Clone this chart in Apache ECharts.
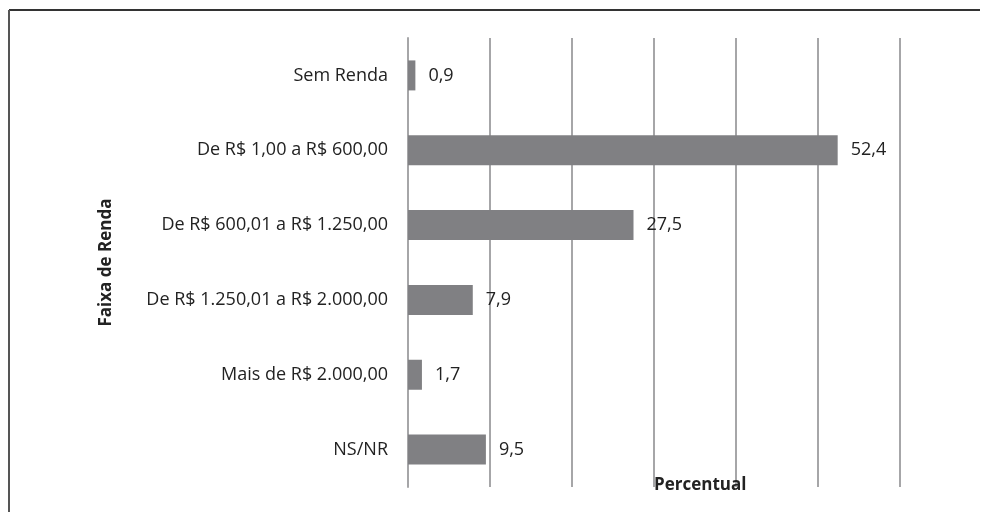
<!DOCTYPE html>
<html>
<head>
<meta charset="utf-8">
<script src="https://cdn.jsdelivr.net/npm/echarts@6/dist/echarts.min.js"></script>
<style>
    html, body { margin: 0; padding: 0; background: #fff; }
    #chart { width: 983px; height: 512px; }
</style>
</head>
<body>
<div id="chart"></div>
<script type="text/javascript">
    // faixas de renda, de cima para baixo
    var categorias = ['Sem Renda', 'De R$ 1,00 a R$ 600,00', 'De R$ 600,01 a R$ 1.250,00',
        'De R$ 1.250,01 a R$ 2.000,00', 'Mais de R$ 2.000,00', 'NS/NR'];
    var percentual = [0.9, 52.4, 27.5, 7.9, 1.7, 9.5];

    var fonte = '"Open Sans", "Noto Sans", sans-serif';

    var myChart = echarts.init(document.getElementById('chart'));
    var option = {
        animation: false,
        textStyle: { fontFamily: fonte },
        grid: { left: 408, right: 83, top: 38, bottom: 25, containLabel: false },
        // moldura (linha superior e esquerda)
        graphic: [
            { type: 'line', shape: { x1: 9, y1: 10, x2: 980, y2: 10 }, style: { stroke: '#333', lineWidth: 2 } },
            { type: 'line', shape: { x1: 9, y1: 10, x2: 9, y2: 512 }, style: { stroke: '#555', lineWidth: 2 } }
        ],
        xAxis: {
            type: 'value',
            min: 0,
            max: 60,
            interval: 10,
            name: 'Percentual',
            nameLocation: 'middle',
            nameGap: -2,
            nameTextStyle: { fontFamily: fonte, fontSize: 17, fontWeight: 'bold', color: '#222', align: 'left', verticalAlign: 'middle' },
            axisLine: { show: false },
            axisTick: { show: false },
            axisLabel: { show: false },
            splitLine: { show: true, lineStyle: { color: '#a6a6a8', width: 2 } }
        },
        yAxis: {
            type: 'category',
            inverse: true,
            data: categorias,
            name: 'Faixa de Renda',
            nameLocation: 'middle',
            nameGap: 293,
            nameTextStyle: { fontFamily: fonte, fontSize: 17, fontWeight: 'bold', color: '#222' },
            axisLine: { show: true, lineStyle: { color: '#a6a6a8', width: 2 } },
            axisTick: { show: false },
            axisLabel: { margin: 20, fontFamily: fonte, fontSize: 18, color: '#222' }
        },
        series: [{
            type: 'bar',
            data: percentual,
            barWidth: 30,
            itemStyle: { color: '#808083' },
            label: {
                show: true,
                position: 'right',
                distance: 13,
                fontFamily: fonte,
                fontSize: 18,
                color: '#222',
                formatter: function (p) { return String(p.value).replace('.', ','); }
            }
        }]
    };
    myChart.setOption(option, true);
</script>
</body>
</html>
